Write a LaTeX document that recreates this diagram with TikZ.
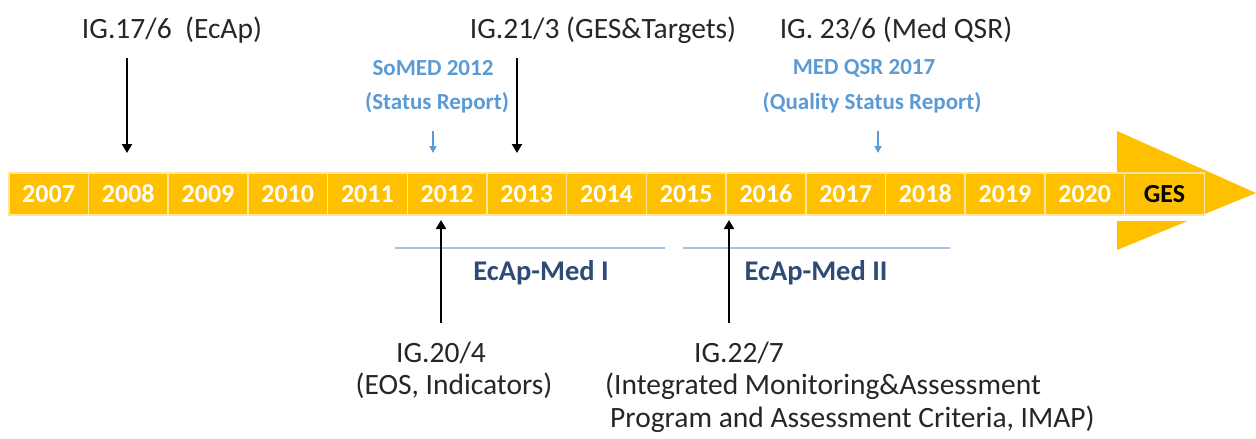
\documentclass[tikz,border=0pt]{standalone}
\usepackage{fontspec}
\setmainfont{Carlito}
\usetikzlibrary{arrows.meta}
\definecolor{gold}{HTML}{FFC000}
\definecolor{goldline}{HTML}{FFE699}
\definecolor{lblue}{HTML}{5B9BD5}
\definecolor{lineblue}{HTML}{9DC3E6}
\definecolor{dblue}{HTML}{2E4A76}
\definecolor{txt}{HTML}{262626}
\tikzset{
  yearbox/.style={fill=gold, draw=goldline, line width=1.5pt, minimum width=79.7pt, minimum height=42pt, inner sep=0pt, anchor=west, text=white, font=\fontsize{26}{29}\selectfont\bfseries},
  igtext/.style={text=txt, font=\fontsize{29.5}{33}\selectfont, inner sep=0pt},
  bluetext/.style={text=lblue, font=\fontsize{23}{26}\selectfont\bfseries, inner sep=0pt},
  phasetext/.style={text=dblue, font=\fontsize{28.5}{32}\selectfont\bfseries, inner sep=0pt},
  blackarrow/.style={line width=2.5pt, -{Triangle[width=10pt,length=9pt]}, black},
  bluearrow/.style={line width=1.5pt, -{Triangle[width=7pt,length=7pt]}, lblue},
  phaseline/.style={line width=1.5pt, lineblue}
}
\begin{document}
\begin{tikzpicture}[x=1pt,y=-1pt]
\useasboundingbox (0,0) rectangle (1256,439);
% big arrow head
\fill[gold] (1117,131) -- (1256,193) -- (1117,250) -- cycle;
\fill[white] (1112,215.5) rectangle (1215,220.5);
% year boxes
\foreach \yr [count=\i from 0] in {2007,2008,2009,2010,2011,2012,2013,2014,2015,2016,2017,2018,2019,2020}{
  \node[yearbox] (y\yr) at ({8+79.7*\i},194) {\yr};
}
\node[yearbox, text=black] (ges) at ({8+79.7*14},194) {GES};
% top labels
\node[igtext] (ig17) at (172,30) {IG.17/6\ \ (EcAp)};
\node[igtext] (ig21) at (603,30) {IG.21/3 (GES\&Targets)};
\node[igtext] (ig23) at (896,30) {IG. 23/6 (Med QSR)};
\node[bluetext] (somed) at (433,68) {SoMED 2012};
\node[bluetext] (somed2) at (437,103) {(Status Report)};
\node[bluetext] (qsr) at (864,68) {MED QSR 2017};
\node[bluetext] (qsr2) at (872,103) {(Quality Status Report)};
% arrows from top
\coordinate (a17s) at (127,58);
\coordinate (a17e) at (127,153);
\draw[blackarrow] (a17s) -- (a17e);
\coordinate (a21s) at (517,58);
\coordinate (a21e) at (517,153);
\draw[blackarrow] (a21s) -- (a21e);
\coordinate (b12s) at (433,131);
\coordinate (b12e) at (433,153);
\draw[bluearrow] (b12s) -- (b12e);
\coordinate (b17s) at (878,131);
\coordinate (b17e) at (878,153);
\draw[bluearrow] (b17s) -- (b17e);
% phases
\coordinate (p1s) at (395,248);
\coordinate (p1e) at (665,248);
\draw[phaseline] (p1s) -- (p1e);
\coordinate (p2s) at (683,248);
\coordinate (p2e) at (950,248);
\draw[phaseline] (p2s) -- (p2e);
\node[phasetext] (med1) at (541,273) {EcAp-Med I};
\node[phasetext] (med2) at (816,273) {EcAp-Med II};
% bottom labels
\node[igtext] (ig20) at (441,353) {IG.20/4};
\node[igtext] (ig20b) at (454,386) {(EOS, Indicators)};
\node[igtext] (ig22) at (739,353) {IG.22/7};
\node[igtext, anchor=west] (ig22b) at (605,386) {(Integrated Monitoring\&Assessment};
\node[igtext, anchor=west] (ig22c) at (610,419) {Program and Assessment Criteria, IMAP)};
% arrows from bottom
\coordinate (a20s) at (441,323);
\coordinate (a20e) at (441,220);
\draw[blackarrow] (a20s) -- (a20e);
\coordinate (a22s) at (729,323);
\coordinate (a22e) at (729,220);
\draw[blackarrow] (a22s) -- (a22e);
\end{tikzpicture}
\end{document}
